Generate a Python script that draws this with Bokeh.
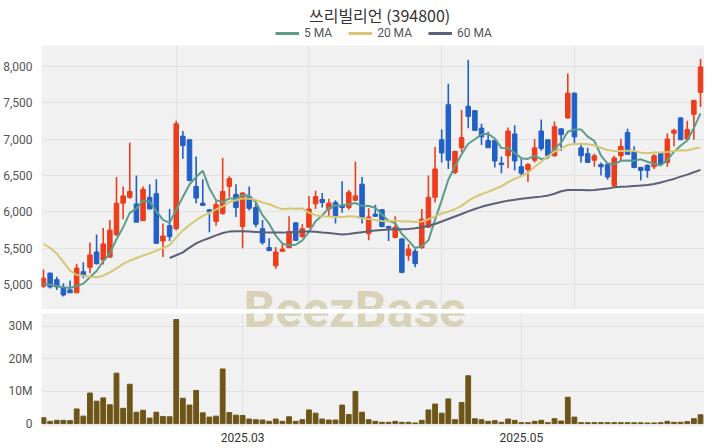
import numpy as np
import pandas as pd
from bokeh.plotting import figure
from bokeh.layouts import column
from bokeh.models import ColumnDataSource, Range1d, FixedTicker, NumeralTickFormatter, Legend
from bokeh.core.properties import value
from bokeh.embed import file_html
from bokeh.resources import INLINE

title_text = "쓰리빌리언 (394800)"

opens = [4980, 5160, 5070, 4960, 4930, 4890, 5180, 5240, 5450, 5340,
         5380, 5690, 6120, 6200, 6110, 5880, 6200, 6250, 5600, 5810,
         5770, 7040, 6990, 6350, 6120, 6030, 5870, 5980, 6350, 6240,
         5800, 6210, 6060, 5770, 5510, 5260, 5460, 5510, 5850, 5660,
         5790, 6110, 6170, 6040, 6130, 6090, 6060, 6160, 6380, 5700,
         5970, 6030, 5800, 5650, 5630, 5400, 5460, 5510, 5790, 6200,
         6990, 7470, 6540, 6880, 7450, 7390, 7150, 6980, 6980, 6670,
         6770, 7070, 6620, 6580, 6710, 7110, 6990, 6770, 7140, 7290,
         7630, 6880, 6800, 6710, 6650, 6650, 6360, 6770, 7090, 6820,
         6610, 6640, 6620, 6810, 6680, 7080, 7290, 7000, 7340, 7640]

highs = [5210, 5170, 5110, 5020, 5060, 5290, 5310, 5580, 5690, 5780,
         5890, 6480, 6350, 6950, 6500, 6350, 6380, 6450, 5840, 6040,
         7250, 7110, 7000, 6760, 6450, 6040, 6160, 6740, 6490, 6380,
         6270, 6350, 6130, 5890, 5640, 5520, 5580, 5940, 5860, 5830,
         6220, 6290, 6260, 6180, 6160, 6420, 6300, 6690, 6480, 6050,
         6100, 6040, 5810, 5940, 5640, 5560, 5490, 6040, 6500, 6890,
         7130, 7760, 6840, 7400, 8090, 7400, 7210, 7100, 6990, 6760,
         7160, 7190, 6730, 6670, 7000, 7270, 6990, 7240, 7150, 7900,
         7640, 6930, 6880, 6800, 6680, 6680, 6770, 7000, 7140, 6900,
         6620, 6650, 6790, 6820, 7080, 7140, 7300, 7250, 7540, 8100]

lows = [4960, 4950, 4930, 4840, 4890, 4890, 5090, 5160, 5280, 5280,
        5370, 5670, 5900, 6180, 5860, 5880, 6040, 5560, 5380, 5600,
        5750, 6730, 6420, 6120, 6090, 5720, 5810, 5960, 6200, 5930,
        5500, 6020, 5790, 5550, 5460, 5220, 5460, 5500, 5610, 5650,
        5780, 6040, 6060, 5930, 5840, 5990, 6030, 6150, 5840, 5610,
        5930, 5790, 5600, 5640, 5160, 5330, 5240, 5490, 5780, 6130,
        6680, 6590, 6520, 6820, 7150, 7110, 6920, 6880, 6610, 6530,
        6600, 6570, 6480, 6410, 6680, 6840, 6750, 6760, 6840, 7280,
        6930, 6680, 6670, 6620, 6500, 6440, 6330, 6700, 6790, 6600,
        6430, 6470, 6590, 6640, 6620, 6900, 6990, 6990, 6990, 7440]

closes = [5090, 4970, 4970, 4860, 4890, 5230, 5130, 5410, 5290, 5560,
          5750, 6120, 6220, 6280, 5860, 6310, 6040, 5570, 5670, 5660,
          7210, 6910, 6430, 6190, 6090, 6000, 6100, 6280, 6460, 6060,
          6260, 6050, 5830, 5580, 5470, 5450, 5490, 5730, 5610, 5770,
          6040, 6210, 6130, 6120, 5940, 6060, 6270, 6220, 5930, 5930,
          5940, 5800, 5780, 5790, 5170, 5490, 5290, 5900, 6200, 6590,
          6810, 6710, 6830, 7020, 7310, 7120, 7030, 6880, 6700, 6650,
          7110, 6700, 6530, 6650, 6880, 6870, 6770, 7170, 7060, 7630,
          7030, 6770, 6680, 6770, 6620, 6480, 6740, 6900, 6790, 6610,
          6570, 6570, 6770, 6660, 7000, 7120, 6990, 7130, 7530, 7990]

volume_m = [1.8, 0.7, 1.0, 1.0, 0.9, 4.5, 2.3, 9.4, 6.9, 7.9,
            5.8, 15.5, 4.7, 12.1, 3.5, 4.1, 1.7, 3.5, 2.2, 2.1,
            32.0, 7.8, 5.7, 10.2, 3.3, 2.0, 2.3, 16.8, 3.4, 2.6,
            2.5, 1.4, 1.2, 1.1, 0.7, 1.4, 0.7, 2.1, 0.7, 1.2,
            4.2, 3.2, 1.4, 1.1, 1.1, 5.7, 2.8, 9.9, 3.5, 1.2,
            0.7, 0.4, 0.4, 0.7, 0.4, 0.4, 0.2, 1.0, 4.2, 6.0,
            3.2, 7.6, 1.2, 6.5, 14.7, 1.5, 1.2, 0.7, 0.9, 0.4,
            1.4, 1.0, 0.3, 0.3, 0.7, 1.0, 0.3, 1.5, 0.8, 8.1,
            2.0, 0.3, 0.3, 0.3, 0.3, 0.3, 0.3, 0.3, 0.3, 0.25,
            0.25, 0.2, 0.2, 0.3, 0.7, 0.4, 0.4, 0.6, 1.5, 2.7]

# moving-average values read from the chart where earlier history is not shown
ma5_head = [5010, 5000, 4980, 4965]
ma20_head = [5560, 5505, 5430, 5310, 5195, 5135, 5125, 5111, 5102, 5125,
             5170, 5225, 5286, 5331, 5368, 5400, 5431, 5468, 5505]
ma60_first_index = 19
ma60 = [5368, 5405, 5445, 5510, 5569, 5610, 5642, 5678, 5711, 5730,
        5734, 5734, 5730, 5725, 5720, 5718, 5716, 5716, 5720, 5725,
        5730, 5732, 5728, 5718, 5710, 5700, 5690, 5697, 5710, 5722,
        5734, 5745, 5752, 5758, 5762, 5764, 5766, 5775, 5789, 5810,
        5835, 5868, 5903, 5938, 5972, 6007, 6041, 6070, 6095, 6115,
        6135, 6155, 6168, 6180, 6190, 6200, 6210, 6224, 6250, 6283,
        6300, 6302, 6300, 6298, 6300, 6310, 6320, 6338, 6345, 6350,
        6357, 6362, 6370, 6384, 6405, 6430, 6453, 6485, 6512, 6545,
        6577]

holidays = ["2025-01-27", "2025-01-28", "2025-01-29", "2025-01-30", "2025-03-03",
            "2025-05-01", "2025-05-05", "2025-05-06", "2025-06-03", "2025-06-06"]
first_day = "2025-01-14"
month_labels = {"2025-03": "2025.03", "2025-05": "2025.05"}
price_ticks = [5000, 5500, 6000, 6500, 7000, 7500, 8000]
price_grid_x = [20, 40, 60, 80]
volume_ticks = [0, 10_000_000, 20_000_000, 30_000_000]
volume_labels = ["0", "10M", "20M", "30M"]
legend_labels = ["5 MA", "20 MA", "60 MA"]
watermark = "BeezBase"

# ---------------------------------------------------------------
n = len(closes)
idx = np.arange(n)
o = np.array(opens, float)
h = np.array(highs, float)
l = np.array(lows, float)
c = np.array(closes, float)
vol = np.array(volume_m) * 1_000_000

dates = [d for d in pd.bdate_range(first_day, periods=n + 20)
         if d.strftime("%Y-%m-%d") not in holidays][:n]
month_ticks = {}
seen = set()
for i, d in enumerate(dates):
    key = d.strftime("%Y-%m")
    if key not in seen:
        seen.add(key)
        if key in month_labels:
            month_ticks[i] = month_labels[key]

ma5 = pd.Series(c).rolling(5).mean().to_numpy()
ma5[:len(ma5_head)] = ma5_head
ma20 = pd.Series(c).rolling(20).mean().to_numpy()
ma20[:len(ma20_head)] = ma20_head

UP = "#ec3d1c"
DOWN = "#2160c6"
BG = "#f1f1f1"
GRID = "#e2e2e2"
FONT = "Roboto"
MA_COLORS = ["#5a9d8a", "#d7c775", "#5c6079"]
WM_COLOR = "#d8d2b8"
W = 704

# ---------------- header: title + legend ----------------
hdr = figure(width=W, height=45, x_range=Range1d(0, W), y_range=Range1d(0, 45),
             output_backend="svg", toolbar_location=None,
             x_axis_location=None, y_axis_location=None,
             min_border=0, outline_line_color=None,
             background_fill_color="white", border_fill_color="white")
hdr.grid.visible = False
hdr.text(x=[359], y=[31], text=[title_text], text_font=value("Noto Sans CJK KR"),
         text_font_size="16px", text_color="#333333", text_align="center",
         text_baseline="middle")
# off-screen samples that only feed the legend glyphs
dummies = [hdr.line(x=[-100, -90], y=[-100, -100], line_color=col, line_width=3)
           for col in MA_COLORS]
legend = Legend(items=[(lab, [r]) for lab, r in zip(legend_labels, dummies)],
                orientation="horizontal", location=(234, 5), border_line_color=None,
                background_fill_alpha=0, label_text_font=FONT, label_text_font_size="12px",
                label_text_color="#555555", glyph_width=24, glyph_height=12, label_height=12,
                label_standoff=5, spacing=16, padding=2, margin=0)
hdr.add_layout(legend, "center")

# ---------------- price panel ----------------
up = c >= o
dn = ~up
src_up = ColumnDataSource(dict(x=idx[up], o=o[up], c=c[up], h=h[up], l=l[up]))
src_dn = ColumnDataSource(dict(x=idx[dn], o=o[dn], c=c[dn], h=h[dn], l=l[dn]))

xr = Range1d(-0.3, n - 0.4)

p = figure(width=W, height=264, x_range=xr, y_range=Range1d(4661, 8284),
           output_backend="svg", toolbar_location=None, x_axis_location=None,
           min_border_left=31, min_border_right=0, min_border_bottom=0, min_border_top=0,
           background_fill_color=BG, border_fill_color="white", outline_line_color=None)

# watermark: upper half shows in the price panel
p.text(x=[46.9], y=[4785], text=[watermark], text_font=value(FONT), text_font_style="bold",
       text_font_size="50px", text_color=WM_COLOR, text_align="center", text_baseline="middle",
       y_offset=10)

for src, col in ((src_up, UP), (src_dn, DOWN)):
    p.segment(x0="x", y0="l", x1="x", y1="h", line_color=col, line_width=1.6, source=src)
    p.vbar(x="x", width=0.68, top="o", bottom="c", fill_color=col, line_color=col, source=src)

p.line(idx, ma5, line_color=MA_COLORS[0], line_width=2)
p.line(idx, ma20, line_color=MA_COLORS[1], line_width=2)
p.line(idx[ma60_first_index:], ma60, line_color=MA_COLORS[2], line_width=2)

p.yaxis.ticker = FixedTicker(ticks=price_ticks)
p.yaxis.formatter = NumeralTickFormatter(format="0,0")
p.xgrid.ticker = FixedTicker(ticks=price_grid_x)

# ---------------- volume panel ----------------
p2 = figure(width=W, height=135, x_range=xr, y_range=Range1d(-0.89e6, 33.86e6),
            output_backend="svg", toolbar_location=None,
            min_border_left=31, min_border_right=0, min_border_top=4, min_border_bottom=13,
            background_fill_color=BG, border_fill_color="white", outline_line_color=None)
# watermark: lower half shows in the volume panel
p2.text(x=[46.9], y=[31.78e6], text=[watermark], text_font=value(FONT), text_font_style="bold",
        text_font_size="50px", text_color=WM_COLOR, text_align="center", text_baseline="middle",
        y_offset=-10)
p2.vbar(x=idx, top=vol, bottom=0, width=0.72, fill_color="#6d5518", line_color="#6d5518")

tick_idx = list(month_ticks.keys())
p2.xaxis.ticker = FixedTicker(ticks=tick_idx)
p2.xaxis.major_label_overrides = {k: v for k, v in month_ticks.items()}
p2.xgrid.ticker = FixedTicker(ticks=tick_idx)
p2.yaxis.ticker = FixedTicker(ticks=volume_ticks)
p2.yaxis.major_label_overrides = dict(zip(volume_ticks, volume_labels))

for fig in (p, p2):
    fig.grid.grid_line_color = GRID
    for ax in fig.axis:
        ax.axis_line_color = None
        ax.major_tick_line_color = None
        ax.minor_tick_line_color = None
        ax.major_label_text_font = FONT
        ax.major_label_text_font_size = "12px"
        ax.major_label_text_color = "#555555"
        ax.major_label_standoff = 3
p2.xaxis.major_label_text_color = "#333333"
p2.xaxis.major_label_standoff = 0

layout = column(hdr, p, p2)
open("out.html", "w").write(file_html(layout, INLINE))
